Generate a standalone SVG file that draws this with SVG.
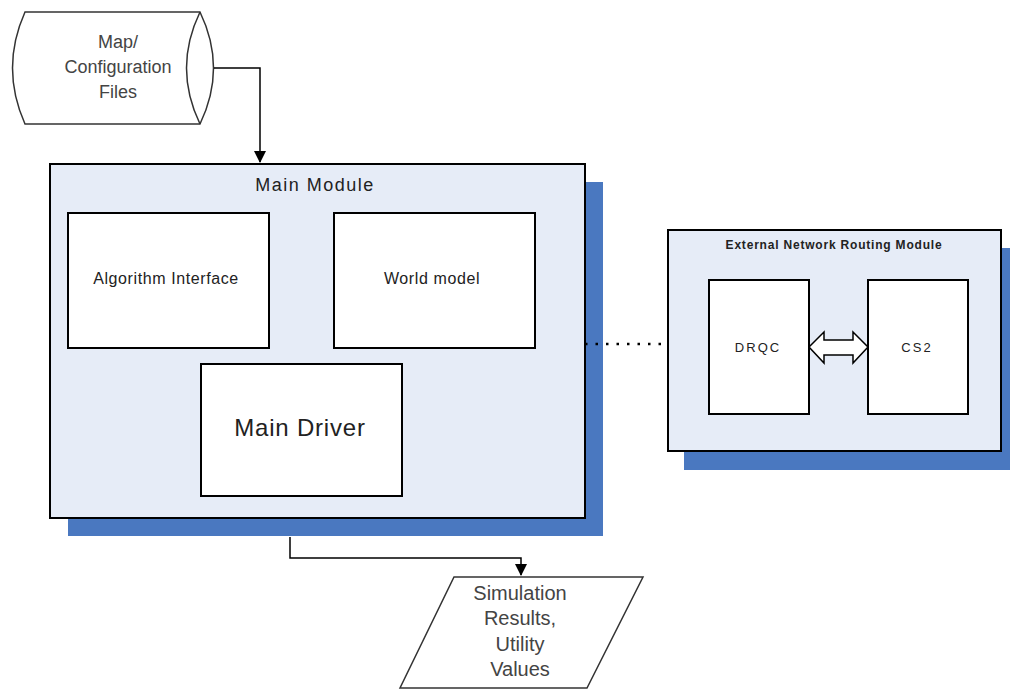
<svg xmlns="http://www.w3.org/2000/svg" width="1010" height="690" viewBox="0 0 1010 690">
<style>
.t{font-family:"Liberation Sans",Arial,sans-serif;fill:#222;text-anchor:middle}
.g{font-family:"Liberation Sans",Arial,sans-serif;fill:#444;text-anchor:middle}
.box{fill:#fff;stroke:#000;stroke-width:2}
.mod{fill:#e6ecf7;stroke:#000;stroke-width:2}
.sh{fill:#4a78c0}
.ln{fill:none;stroke:#000;stroke-width:1.5}
</style>
<defs>
<marker id="ah" markerWidth="12" markerHeight="12" refX="11" refY="6" orient="auto" markerUnits="userSpaceOnUse">
<path d="M0,0 L12,6 L0,12 Z" fill="#000"/>
</marker>
</defs>
<rect width="1010" height="690" fill="#fff"/>

<g id="map-files">
<path d="M25,12 L200,12 Q227,68 200,124 L25,124 Q0,68 25,12 Z" fill="#fff" stroke="#333" stroke-width="1.5"/>
<path d="M200,12 Q173,68 200,124" fill="none" stroke="#333" stroke-width="1.5"/>
<text class="g" x="118" y="48" font-size="18">Map/</text>
<text class="g" x="118" y="73" font-size="18">Configuration</text>
<text class="g" x="118" y="98" font-size="18">Files</text>
</g>

<g id="main-module">
<rect class="sh" x="68" y="182" width="535" height="354"/>
<rect class="mod" x="50" y="164" width="535" height="354"/>
<text class="t" x="315" y="191" font-size="18" letter-spacing="1.5">Main Module</text>
</g>
<g id="algorithm-interface">
<rect class="box" x="68" y="213" width="201" height="135"/>
<text class="t" x="166" y="284" font-size="16" letter-spacing="0.6">Algorithm  Interface</text>
</g>
<g id="world-model">
<rect class="box" x="334" y="213" width="201" height="135"/>
<text class="t" x="432" y="284" font-size="16" letter-spacing="0.6">World model</text>
</g>
<g id="main-driver">
<rect class="box" x="201" y="364" width="201" height="132"/>
<text class="t" x="300" y="436" font-size="24" letter-spacing="0.8">Main Driver</text>
</g>

<g id="external-module">
<rect class="sh" x="684" y="248" width="326" height="222"/>
<rect class="mod" x="668" y="230" width="333" height="221"/>
<text class="t" x="834" y="249" font-size="12" font-weight="bold" letter-spacing="0.8">External Network Routing Module</text>
</g>
<g id="drqc">
<rect class="box" x="709" y="280" width="100" height="134"/>
<text class="t" x="758" y="352" font-size="13" letter-spacing="2">DRQC</text>
</g>
<g id="cs2">
<rect class="box" x="868" y="280" width="100" height="134"/>
<text class="t" x="917" y="352" font-size="13" letter-spacing="2">CS2</text>
</g>

<g id="output">
<path d="M454,577 L643,577 L587,688 L400,688 Z" fill="#fff" stroke="#333" stroke-width="1.5"/>
<text class="g" x="520" y="600" font-size="20">Simulation</text>
<text class="g" x="520" y="625" font-size="20">Results,</text>
<text class="g" x="520" y="651" font-size="20">Utility</text>
<text class="g" x="520" y="676" font-size="20">Values</text>
</g>

<g id="connectors">
<path class="ln" d="M214,68 L260,68 L260,162" marker-end="url(#ah)"/>
<path class="ln" d="M290,537 L290,558 L521,558 L521,575" marker-end="url(#ah)"/>
<path d="M585,344 L662,344" fill="none" stroke="#000" stroke-width="2.5" stroke-dasharray="2.5,8"/>
<path d="M809,347 L824,332 L824,340 L853,340 L853,332 L868,347 L853,363 L853,355 L824,355 L824,363 Z" fill="#fff" stroke="#000" stroke-width="1.5"/>
</g>
</svg>
